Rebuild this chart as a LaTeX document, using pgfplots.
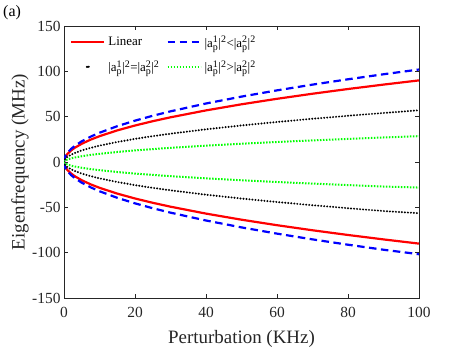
\documentclass[border=0pt]{standalone}
\usepackage{fontspec}
\setmainfont{Liberation Serif}
\usepackage{pgfplots}
\pgfplotsset{compat=1.18}
\usepackage{pgfplotstable}

\definecolor{mred}{rgb}{1,0,0}
\definecolor{mblue}{rgb}{0,0,1}
\definecolor{mgreen}{rgb}{0,1,0}
\definecolor{axgray}{rgb}{0.15,0.15,0.15}

% |a_p^n|^2 as MATLAB writes it
\newcommand{\ssz}{\fontsize{10}{10}\selectfont}
\newcommand{\amp}[1]{|a$^{\mbox{\ssz #1}}_{\mbox{\ssz p}}$|$^{\mbox{\ssz 2}}$}

% x, upper branches (R B K G), lower branches (r b k g)
\pgfplotstableread{
x    R     B      K     G     r      b       k      g
0    0     0      0     0     0      0       0      0
0.1  2.85  3.23   1.80  0.90  -2.85  -3.23   -1.80  -0.90
0.25 4.50  5.10   2.85  1.43  -4.50  -5.10   -2.85  -1.43
0.5  6.36  7.21   4.03  2.01  -6.36  -7.21   -4.03  -2.01
1    9.00  10.20  5.70  2.85  -9.00  -10.20  -5.70  -2.85
2    12.73 14.42  8.06  4.03  -12.73 -14.42  -8.06  -4.03
3    15.59 17.67  9.87  4.94  -15.59 -17.67  -9.87  -4.94
5    20.12 22.81  12.75 6.37  -20.12 -22.81  -12.75 -6.37
7.5  24.65 27.94  15.61 7.81  -24.65 -27.94  -15.61 -7.81
10   28.46 32.25  18.02 9.01  -28.46 -32.25  -18.02 -9.01
15   34.86 39.50  22.08 11.04 -34.86 -39.50  -22.08 -11.04
20   40.25 45.61  25.49 12.75 -40.25 -45.61  -25.49 -12.75
25   45.00 51.00  28.50 14.25 -45.00 -51.00  -28.50 -14.25
30   49.29 55.87  31.22 15.61 -49.29 -55.87  -31.22 -15.61
40   56.92 64.52  36.05 18.03 -56.92 -64.52  -36.05 -18.03
50   63.64 72.12  40.30 20.15 -63.64 -72.12  -40.30 -20.15
60   69.71 79.01  44.15 22.08 -69.71 -79.01  -44.15 -22.08
70   75.30 85.34  47.69 23.85 -75.30 -85.34  -47.69 -23.85
80   80.50 91.23  50.98 25.49 -80.50 -91.23  -50.98 -25.49
90   85.38 96.77  54.08 27.04 -85.38 -96.77  -54.08 -27.04
100  90.00 102.00 57.00 28.50 -90.00 -101.70 -56.50 -28.20
}\eig

\begin{document}
\begin{tikzpicture}
\useasboundingbox (-64bp,-50bp) rectangle (399bp,298bp);
\begin{axis}[
  scale only axis, width=355bp, height=272bp,
  xmin=0, xmax=100, ymin=-150, ymax=150,
  xtick={0,20,...,100}, ytick={-150,-100,...,150},
  tick align=inside, major tick length=4bp,
  axis line style={axgray, line width=0.5bp},
  every tick/.style={axgray, line width=0.5bp},
  /pgf/number format/assume math mode=true,
  ticklabel style={font=\fontsize{15.5}{16}\selectfont, text=axgray},
  xticklabel style={yshift=-6bp},
  label style={font=\fontsize{19}{20}\selectfont, text=axgray},
  xlabel={Perturbation (KHz)},
  ylabel={Eigenfrequency (MHz)},
  xlabel style={at={(axis description cs:0.5,-0.151)}, anchor=center},
  ylabel style={at={(axis description cs:-0.124,0.5)}, anchor=center},
  legend columns=2,
  legend cell align=left,
  legend image code/.code={\draw[#1] (0bp,0bp) -- (33bp,0bp);},
  legend style={draw=none, fill=none,
    at={(axis description cs:0,1)}, anchor=north west,
    xshift=3bp, yshift=-6bp, row sep=8bp,
    font=\fontsize{13}{14}\selectfont,
    /tikz/every odd column/.append style={column sep=1bp},
    /tikz/every even column/.append style={column sep=5bp}},
]
\addplot[mred, line width=2.2bp] table[x=x, y=R] {\eig};
\addlegendentry{Linear}
\addplot[mblue, line width=2.2bp, dash pattern=on 7.5bp off 4.5bp] table[x=x, y=B] {\eig};
\addlegendentry{\amp{1}<\amp{2}}
\addplot[black, line width=2.2bp, line cap=round, dash pattern=on 0pt off 3bp,
  legend image code/.code={\fill[black] (16.5bp,0bp) circle (1bp);}]
  table[x=x, y=K] {\eig};
\addlegendentry{\amp{1}=\amp{2}}
\addplot[mgreen, line width=2bp, dash pattern=on 1.5bp off 1.5bp] table[x=x, y=G] {\eig};
\addlegendentry{\amp{1}>\amp{2}}

\addplot[forget plot, mred, line width=2.2bp] table[x=x, y=r] {\eig};
\addplot[forget plot, mblue, line width=2.2bp, dash pattern=on 7.5bp off 4.5bp] table[x=x, y=b] {\eig};
\addplot[forget plot, black, line width=2.2bp, line cap=round, dash pattern=on 0pt off 3bp] table[x=x, y=k] {\eig};
\addplot[forget plot, mgreen, line width=2bp, dash pattern=on 1.5bp off 1.5bp] table[x=x, y=g] {\eig};
\end{axis}
\node[anchor=north west, inner sep=0, font=\fontsize{16}{17}\selectfont] at (-61bp,293bp) {(a)};
\end{tikzpicture}
\end{document}
